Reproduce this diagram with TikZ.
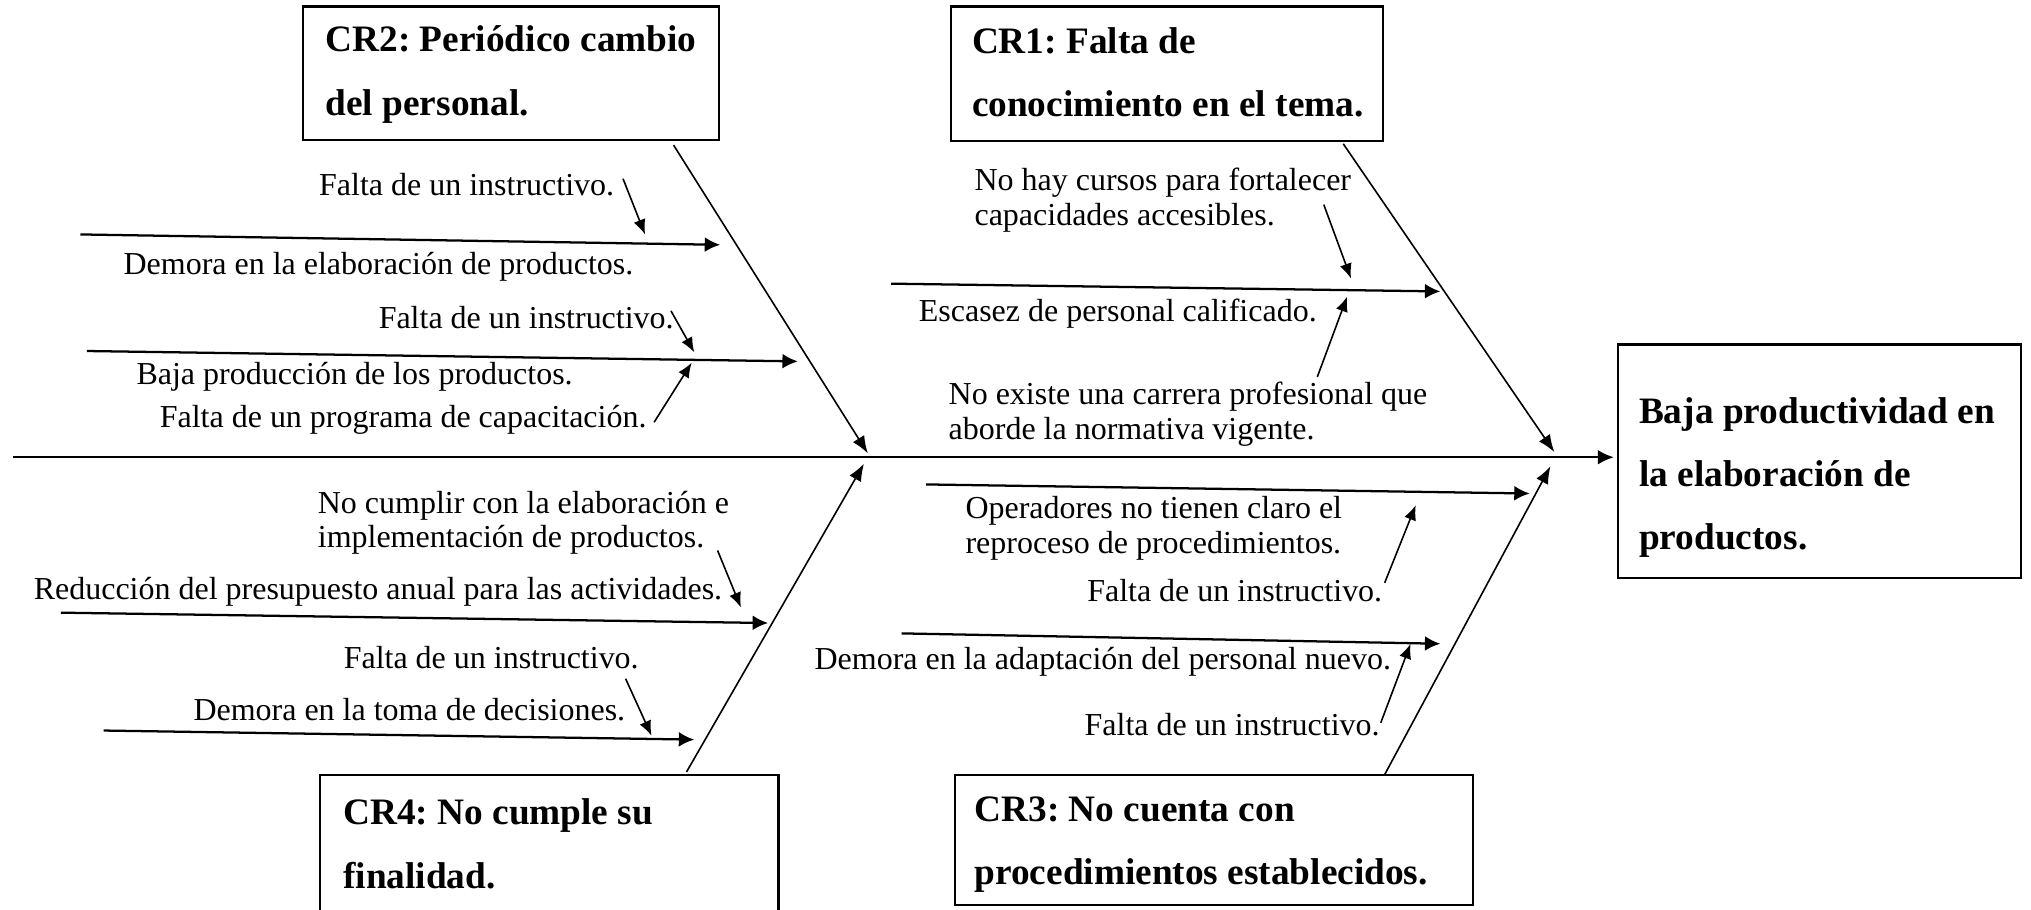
\documentclass[tikz,border=0pt]{standalone}
\usepackage{fontspec}
\setmainfont{Liberation Serif}
\frenchspacing
\usetikzlibrary{arrows.meta,fit}
\tikzset{
 lbl/.style={font=\fontsize{12}{12.9}\selectfont, inner sep=0pt, anchor=base west, align=left},
 btxt/.style={font=\fontsize{14}{23.8}\selectfont\bfseries, inner sep=0pt, anchor=base west, align=left},
 cbox/.style={draw, line width=0.8pt, inner sep=0pt},
 spine/.style={line width=0.9pt, -{Latex[length=6pt,width=5.5pt]}},
 bone/.style={line width=0.6pt, -{Latex[length=6.5pt,width=5pt]}},
 sub/.style={line width=0.85pt, -{Latex[length=5.8pt,width=5.6pt]}},
 tick/.style={line width=0.6pt, -{Latex[length=5.6pt,width=4.6pt]}},
}
\begin{document}
\begin{tikzpicture}[x=0.486pt,y=-0.486pt]
\useasboundingbox (0,0) rectangle (1568,702);
\fill[white] (0,0) rectangle (1568,702);
\clip (0,0) rectangle (1568,702);

% boxes (text nodes are anchored at the baseline of their last line)
\node[cbox, fit={(234,5) (555,108)}] (cr2) {};
\node[btxt] (cr2t) at (251,89) {CR2: Periódico cambio\\del personal.};
\node[cbox, fit={(734,5) (1068,109)}] (cr1) {};
\node[btxt] (cr1t) at (750,90) {CR1: Falta de\\conocimiento en el tema.};
\node[cbox, fit={(247,598) (601,720)}] (cr4) {};
\node[btxt] (cr4t) at (264.6,685.6) {CR4: No cumple su\\finalidad.};
\node[cbox, fit={(737,598) (1137,699)}] (cr3) {};
\node[btxt] (cr3t) at (752,683) {CR3: No cuenta con\\procedimientos establecidos.};
\node[cbox, fit={(1249,266) (1560,446)}] (eff) {};
\node[btxt] (efft) at (1265,424.6) {Baja productividad en\\la elaboración de\\productos.};

% spine
\coordinate (sp0) at (10,353);
\coordinate (sp1) at (1246,353);
\draw[spine] (sp0) -- (sp1);

% bones
\coordinate (b2s) at (520,112); \coordinate (b2e) at (670,350);
\coordinate (b1s) at (1037,111); \coordinate (b1e) at (1200,349);
\coordinate (b4s) at (530,596); \coordinate (b4e) at (667,358);
\coordinate (b3s) at (1069,598); \coordinate (b3e) at (1197,360);
\draw[bone] (b2s) -- (b2e);
\draw[bone] (b1s) -- (b1e);
\draw[bone] (b4s) -- (b4e);
\draw[bone] (b3s) -- (b3e);

% sub causes
\coordinate (a1s) at (62,181);  \coordinate (a1e) at (556,189);
\coordinate (a2s) at (67,271);  \coordinate (a2e) at (616,279);
\coordinate (a3s) at (688,219); \coordinate (a3e) at (1112,225);
\coordinate (a4s) at (47,473);  \coordinate (a4e) at (593,481);
\coordinate (a5s) at (80,564);  \coordinate (a5e) at (536,571);
\coordinate (a6s) at (715,374); \coordinate (a6e) at (1181,381);
\coordinate (a7s) at (696,489); \coordinate (a7e) at (1112,497);
\foreach \i in {1,...,7} {\draw[sub] (a\i s) -- (a\i e);}

% small arrows
\coordinate (s1s) at (481,138);  \coordinate (s1e) at (498,181);
\coordinate (s2s) at (518,240);  \coordinate (s2e) at (536,272);
\coordinate (s3s) at (505,326);  \coordinate (s3e) at (534,280);
\coordinate (s4s) at (1022,158); \coordinate (s4e) at (1043,215);
\coordinate (s5s) at (1017,291); \coordinate (s5e) at (1040,229);
\coordinate (s6s) at (554,425);  \coordinate (s6e) at (572,469);
\coordinate (s7s) at (483,524);  \coordinate (s7e) at (503,568);
\coordinate (s8s) at (1069,450); \coordinate (s8e) at (1093,390);
\coordinate (s9s) at (1066,558); \coordinate (s9e) at (1089,497);
\foreach \i in {1,...,9} {\draw[tick] (s\i s) -- (s\i e);}

% labels
\node[lbl] (t1) at (246,151) {Falta de un instructivo.};
\node[lbl] (t2) at (95,212) {Demora en la elaboración de productos.};
\node[lbl] (t3) at (292,254) {Falta de un instructivo.};
\node[lbl] (t4) at (105,297) {Baja producción de los productos.};
\node[lbl] (t5) at (123,330) {Falta de un programa de capacitación.};
\node[lbl] (t6) at (752,174) {No hay cursos para fortalecer\\capacidades accesibles.};
\node[lbl] (t7) at (709,248.5) {Escasez de personal calificado.};
\node[lbl] (t8) at (732,339) {No existe una carrera profesional que\\aborde la normativa vigente.};
\node[lbl] (t9) at (245,423) {No cumplir con la elaboración e\\implementación de productos.};
\node[lbl] (t10) at (25.7,463) {Reducción del presupuesto anual para las actividades.};
\node[lbl] (t11) at (265,516) {Falta de un instructivo.};
\node[lbl] (t12) at (149,556) {Demora en la toma de decisiones.};
\node[lbl] (t13) at (745,427) {Operadores no tienen claro el\\reproceso de procedimientos.};
\node[lbl] (t14) at (839,464.6) {Falta de un instructivo.};
\node[lbl] (t15) at (628.5,517) {Demora en la adaptación del personal nuevo.};
\node[lbl] (t16) at (837,567.6) {Falta de un instructivo.};
\end{tikzpicture}
\end{document}
